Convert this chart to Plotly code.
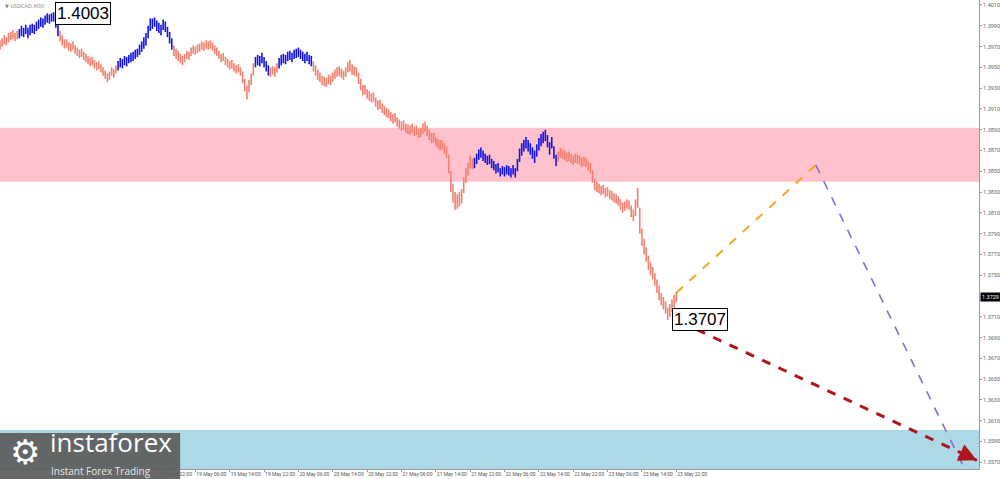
import plotly.graph_objects as go

# ---------------- DATA ----------------
highs = [
    1.3976, 1.3978, 1.3981, 1.3979, 1.3983, 1.3984, 1.3986, 1.3983, 1.3985, 1.3987,
    1.3990, 1.3988, 1.3991, 1.3988, 1.3991, 1.3992, 1.3991, 1.3994, 1.3996, 1.3998,
    1.3997, 1.4000, 1.4002, 1.4001, 1.4002, 1.4003, 1.3999, 1.3993, 1.3985, 1.3981,
    1.3977, 1.3977, 1.3974, 1.3973, 1.3975, 1.3971, 1.3969, 1.3967, 1.3968, 1.3965,
    1.3963, 1.3961, 1.3959, 1.3960, 1.3957, 1.3955, 1.3956, 1.3953, 1.3950, 1.3947,
    1.3944, 1.3946, 1.3950, 1.3948, 1.3952, 1.3956, 1.3959, 1.3958, 1.3961, 1.3960,
    1.3962, 1.3964, 1.3965, 1.3967, 1.3968, 1.3972, 1.3975, 1.3979, 1.3983, 1.3990,
    1.3997, 1.3997, 1.3998, 1.3995, 1.3993, 1.3991, 1.3996, 1.3994, 1.3989, 1.3984,
    1.3978, 1.3971, 1.3968, 1.3966, 1.3963, 1.3961, 1.3963, 1.3966, 1.3965, 1.3969,
    1.3971, 1.3970, 1.3972, 1.3973, 1.3975, 1.3974, 1.3976, 1.3975, 1.3976, 1.3974,
    1.3971, 1.3969, 1.3966, 1.3963, 1.3964, 1.3960, 1.3958, 1.3956, 1.3957, 1.3954,
    1.3952, 1.3953, 1.3950, 1.3946, 1.3939, 1.3932, 1.3938, 1.3944, 1.3954, 1.3960,
    1.3962, 1.3961, 1.3964, 1.3960, 1.3956, 1.3952, 1.3950, 1.3951, 1.3950, 1.3954,
    1.3959, 1.3962, 1.3963, 1.3962, 1.3965, 1.3966, 1.3964, 1.3967, 1.3968, 1.3969,
    1.3967, 1.3965, 1.3963, 1.3965, 1.3962, 1.3961, 1.3956, 1.3952, 1.3948, 1.3945,
    1.3942, 1.3941, 1.3940, 1.3943, 1.3942, 1.3945, 1.3948, 1.3950, 1.3951, 1.3949,
    1.3947, 1.3950, 1.3955, 1.3957, 1.3953, 1.3951, 1.3950, 1.3945, 1.3939, 1.3933,
    1.3933, 1.3929, 1.3927, 1.3925, 1.3926, 1.3921, 1.3918, 1.3919, 1.3915, 1.3913,
    1.3911, 1.3910, 1.3907, 1.3905, 1.3906, 1.3902, 1.3900, 1.3898, 1.3899, 1.3896,
    1.3895, 1.3894, 1.3896, 1.3893, 1.3894, 1.3891, 1.3892, 1.3896, 1.3898, 1.3894,
    1.3890, 1.3887, 1.3887, 1.3883, 1.3881, 1.3880, 1.3880, 1.3877, 1.3874, 1.3866,
    1.3850, 1.3838, 1.3830, 1.3828, 1.3830, 1.3833, 1.3844, 1.3853, 1.3858, 1.3865,
    1.3862, 1.3863, 1.3867, 1.3871, 1.3873, 1.3870, 1.3867, 1.3865, 1.3866, 1.3862,
    1.3860, 1.3857, 1.3858, 1.3853, 1.3855, 1.3854, 1.3856, 1.3855, 1.3853, 1.3856,
    1.3853, 1.3862, 1.3872, 1.3877, 1.3880, 1.3883, 1.3880, 1.3877, 1.3873, 1.3870,
    1.3876, 1.3882, 1.3886, 1.3888, 1.3890, 1.3885, 1.3878, 1.3883, 1.3874, 1.3866,
    1.3869, 1.3873, 1.3871, 1.3870, 1.3868, 1.3869, 1.3867, 1.3865, 1.3867, 1.3866,
    1.3865, 1.3863, 1.3864, 1.3863, 1.3860, 1.3858, 1.3851, 1.3843, 1.3840, 1.3838,
    1.3836, 1.3837, 1.3834, 1.3835, 1.3832, 1.3831, 1.3829, 1.3828, 1.3826, 1.3823,
    1.3820, 1.3821, 1.3823, 1.3822, 1.3817, 1.3813, 1.3823, 1.3834, 1.3815, 1.3795,
    1.3785, 1.3777, 1.3769, 1.3763, 1.3758, 1.3752, 1.3746, 1.3740, 1.3733, 1.3729,
    1.3725, 1.3719, 1.3722, 1.3727, 1.3731, 1.3734,
]

lows = [
    1.3967, 1.3970, 1.3972, 1.3971, 1.3974, 1.3976, 1.3977, 1.3975, 1.3977, 1.3978,
    1.3980, 1.3979, 1.3982, 1.3978, 1.3981, 1.3983, 1.3982, 1.3985, 1.3987, 1.3989,
    1.3988, 1.3991, 1.3993, 1.3992, 1.3994, 1.3994, 1.3988, 1.3980, 1.3975, 1.3971,
    1.3968, 1.3969, 1.3966, 1.3965, 1.3967, 1.3963, 1.3961, 1.3959, 1.3960, 1.3957,
    1.3955, 1.3953, 1.3951, 1.3952, 1.3949, 1.3947, 1.3948, 1.3945, 1.3942, 1.3939,
    1.3936, 1.3938, 1.3942, 1.3940, 1.3944, 1.3947, 1.3950, 1.3949, 1.3952, 1.3951,
    1.3954, 1.3955, 1.3956, 1.3958, 1.3960, 1.3962, 1.3965, 1.3968, 1.3971, 1.3978,
    1.3985, 1.3987, 1.3989, 1.3985, 1.3983, 1.3981, 1.3986, 1.3984, 1.3979, 1.3973,
    1.3967, 1.3961, 1.3958, 1.3956, 1.3954, 1.3952, 1.3955, 1.3958, 1.3957, 1.3961,
    1.3963, 1.3962, 1.3964, 1.3965, 1.3967, 1.3966, 1.3968, 1.3967, 1.3968, 1.3966,
    1.3963, 1.3961, 1.3958, 1.3955, 1.3956, 1.3952, 1.3950, 1.3948, 1.3949, 1.3946,
    1.3944, 1.3945, 1.3942, 1.3935, 1.3927, 1.3919, 1.3926, 1.3933, 1.3942, 1.3950,
    1.3952, 1.3951, 1.3954, 1.3950, 1.3946, 1.3942, 1.3941, 1.3943, 1.3941, 1.3945,
    1.3949, 1.3952, 1.3954, 1.3953, 1.3956, 1.3957, 1.3955, 1.3958, 1.3959, 1.3960,
    1.3958, 1.3956, 1.3954, 1.3956, 1.3953, 1.3951, 1.3946, 1.3942, 1.3938, 1.3936,
    1.3933, 1.3932, 1.3931, 1.3934, 1.3933, 1.3936, 1.3939, 1.3941, 1.3942, 1.3940,
    1.3938, 1.3941, 1.3945, 1.3946, 1.3943, 1.3942, 1.3941, 1.3934, 1.3928, 1.3923,
    1.3924, 1.3920, 1.3918, 1.3916, 1.3917, 1.3912, 1.3909, 1.3910, 1.3906, 1.3904,
    1.3902, 1.3901, 1.3898, 1.3896, 1.3897, 1.3893, 1.3891, 1.3889, 1.3890, 1.3887,
    1.3886, 1.3885, 1.3887, 1.3884, 1.3885, 1.3882, 1.3883, 1.3886, 1.3888, 1.3884,
    1.3880, 1.3877, 1.3878, 1.3874, 1.3872, 1.3870, 1.3871, 1.3867, 1.3863, 1.3848,
    1.3830, 1.3820, 1.3813, 1.3814, 1.3816, 1.3819, 1.3829, 1.3839, 1.3846, 1.3853,
    1.3852, 1.3853, 1.3857, 1.3861, 1.3863, 1.3860, 1.3858, 1.3856, 1.3857, 1.3853,
    1.3851, 1.3848, 1.3849, 1.3845, 1.3847, 1.3845, 1.3847, 1.3846, 1.3844, 1.3847,
    1.3844, 1.3850, 1.3859, 1.3865, 1.3869, 1.3872, 1.3869, 1.3866, 1.3862, 1.3858,
    1.3864, 1.3870, 1.3874, 1.3877, 1.3879, 1.3873, 1.3866, 1.3872, 1.3862, 1.3855,
    1.3859, 1.3863, 1.3862, 1.3861, 1.3859, 1.3860, 1.3858, 1.3856, 1.3858, 1.3857,
    1.3856, 1.3854, 1.3855, 1.3854, 1.3851, 1.3848, 1.3839, 1.3832, 1.3830, 1.3829,
    1.3827, 1.3828, 1.3825, 1.3826, 1.3823, 1.3822, 1.3820, 1.3819, 1.3817, 1.3813,
    1.3810, 1.3812, 1.3814, 1.3813, 1.3806, 1.3802, 1.3807, 1.3815, 1.3790, 1.3778,
    1.3770, 1.3763, 1.3755, 1.3750, 1.3746, 1.3740, 1.3733, 1.3726, 1.3721, 1.3717,
    1.3713, 1.3707, 1.3710, 1.3715, 1.3719, 1.3724,
]

# bar index ranges (inclusive) drawn in blue (wave segments)
blue_waves = [(9, 27), (55, 80), (119, 125), (130, 145), (221, 259)]

# time axis labels (bar index -> label)
tick_bars = [75, 91, 107, 123, 139, 155, 171, 187, 203, 219, 235, 251, 267, 283, 299, 315]
tick_text = ["16 May 22:00", "19 May 06:00", "19 May 14:00", "19 May 22:00",
             "20 May 06:00", "20 May 14:00", "20 May 22:00", "21 May 06:00",
             "21 May 14:00", "21 May 22:00", "22 May 06:00", "22 May 14:00",
             "22 May 22:00", "23 May 06:00", "23 May 14:00", "23 May 22:00"]

price_ticks = [1.4010, 1.3990, 1.3970, 1.3950, 1.3930, 1.3910, 1.3890, 1.3870,
               1.3850, 1.3830, 1.3810, 1.3790, 1.3770, 1.3750, 1.3730, 1.3710,
               1.3690, 1.3670, 1.3650, 1.3630, 1.3610, 1.3590, 1.3570]

resistance_zone = (1.3840, 1.3892)
target_zone = (1.3563, 1.3601)

orange_x, orange_y = [315, 380], [1.3733, 1.3856]
purple_x, purple_y = [380, 449], [1.3856, 1.3565]
red_x, red_y = [317, 455], [1.3705, 1.3572]

max_label = (25, 1.4003, "1.4003")
min_label = (311, 1.3707, "1.3707")
last_price = "1.3729"

x_range = [0, 456]
y_range = [1.35636, 1.40148]

SALMON = "#F3806E"
BLUE = "#1414E6"

# ---------------- FIGURE ----------------
fig = go.Figure()

is_blue = [any(a <= i <= b for a, b in blue_waves) for i in range(len(highs))]


def bar_xy(flag):
    xs, ys = [], []
    for i, (h, l) in enumerate(zip(highs, lows)):
        if is_blue[i] == flag:
            xs += [i, i, None]
            ys += [l, h, None]
    return xs, ys


for flag, col in [(False, SALMON), (True, BLUE)]:
    xs, ys = bar_xy(flag)
    fig.add_trace(go.Scatter(x=xs, y=ys, mode="lines",
                             line=dict(color=col, width=1.6),
                             hoverinfo="skip", showlegend=False))

# forecast lines
fig.add_trace(go.Scatter(x=orange_x, y=orange_y, mode="lines",
                         line=dict(color="#F5A623", width=2, dash="dash"),
                         hoverinfo="skip", showlegend=False))
fig.add_trace(go.Scatter(x=purple_x, y=purple_y, mode="lines",
                         line=dict(color="#8C6BD6", width=1.6, dash="dash"),
                         hoverinfo="skip", showlegend=False))
fig.add_trace(go.Scatter(x=red_x, y=red_y, mode="lines",
                         line=dict(color="#B0141C", width=3, dash="dash"),
                         hoverinfo="skip", showlegend=False))

slope = (red_y[1] - red_y[0]) / (red_x[1] - red_x[0])
back = 7

shapes = [
    dict(type="rect", xref="paper", x0=0, x1=1, yref="y",
         y0=resistance_zone[0], y1=resistance_zone[1],
         fillcolor="#FFC2CC", line=dict(width=0), layer="below"),
    dict(type="rect", xref="paper", x0=0, x1=1, yref="y",
         y0=target_zone[0], y1=target_zone[1],
         fillcolor="#ADD8E6", line=dict(width=0), layer="below"),
    # logo plate
    dict(type="rect", xref="paper", yref="paper", x0=0, x1=0.1840, y0=-0.0215, y1=0.0768,
         fillcolor="rgba(92,92,92,0.93)", line=dict(width=0), layer="above"),
]

annotations = [
    dict(x=max_label[0], y=max_label[1], xref="x", yref="y", text=max_label[2],
         showarrow=False, xanchor="left", yanchor="middle", xshift=1, yshift=-1,
         font=dict(family="Liberation Sans, Arial", size=17, color="black"),
         bgcolor="white", bordercolor="black", borderwidth=1, borderpad=1),
    dict(x=min_label[0], y=min_label[1], xref="x", yref="y", text=min_label[2],
         showarrow=False, xanchor="left", yanchor="middle", xshift=4,
         font=dict(family="Liberation Sans, Arial", size=17, color="black"),
         bgcolor="white", bordercolor="black", borderwidth=1, borderpad=1),
    dict(x=red_x[1], y=red_y[1], ax=red_x[1] - back, ay=red_y[1] - back * slope,
         xref="x", yref="y", axref="x", ayref="y", text="", showarrow=True,
         arrowhead=2, arrowsize=1.2, arrowwidth=3, arrowcolor="#B0141C", standoff=0),
    dict(x=1, y=float(last_price), xref="paper", yref="y", text=last_price,
         showarrow=False, xanchor="left", yanchor="middle", xshift=1,
         font=dict(family="Roboto", size=5.5, color="white"),
         bgcolor="black", borderpad=1),
    dict(x=0.003, y=1, xref="paper", yref="paper", text="▼ USDCAD,M30",
         showarrow=False, xanchor="left", yanchor="top", yshift=-1,
         font=dict(family="DejaVu Sans", size=5, color="#888")),
    # logo texts
    dict(x=0.0255, y=0.036, xref="paper", yref="paper", text="⚙", showarrow=False,
         xanchor="center", yanchor="middle",
         font=dict(family="DejaVu Sans", size=34, color="white")),
    dict(x=0.050, y=0.017, xref="paper", yref="paper", text="instaforex", showarrow=False,
         xanchor="left", yanchor="bottom", borderpad=0,
         font=dict(family="Open Sans", size=26, color="white")),
    dict(x=0.051, y=0.012, xref="paper", yref="paper", text="Instant Forex Trading",
         showarrow=False, xanchor="left", yanchor="top", borderpad=0,
         font=dict(family="Open Sans", size=10, color="#E6E6E6")),
]

fig.update_layout(
    width=1000, height=479,
    margin=dict(l=0, r=21, t=0, b=10),
    paper_bgcolor="white", plot_bgcolor="white",
    shapes=shapes, annotations=annotations,
    showlegend=False,
    xaxis=dict(range=x_range, showgrid=False, zeroline=False, automargin=False,
               showline=True, linecolor="#9a9a9a", linewidth=1,
               tickmode="array", tickvals=tick_bars, ticktext=tick_text,
               tickangle=0, ticks="outside", ticklen=2, tickcolor="#999",
               ticklabelposition="outside right",
               tickfont=dict(family="Roboto", size=5, color="#555")),
    yaxis=dict(range=y_range, side="right", showgrid=False, zeroline=False,
               automargin=False,
               showline=True, linecolor="#9a9a9a", linewidth=1,
               tickmode="array", tickvals=price_ticks,
               ticktext=[f"{v:.4f}" for v in price_ticks],
               ticks="outside", ticklen=2, tickcolor="#999",
               tickfont=dict(family="Roboto", size=5.5, color="#666")),
)

fig.write_html("out.html", config={"displayModeBar": False},
               post_script="document.body.style.margin='0';")
